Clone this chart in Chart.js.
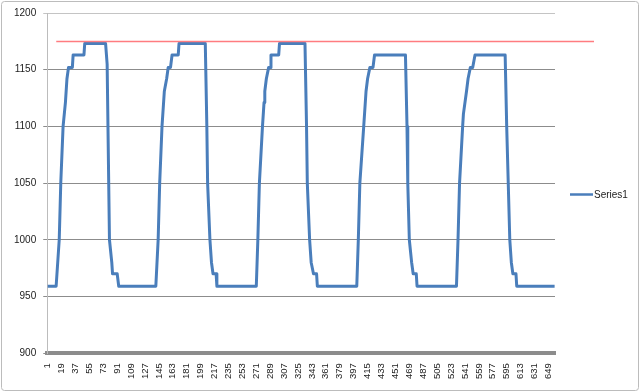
<!DOCTYPE html>
<html>
<head>
<meta charset="utf-8">
<script src="https://cdn.jsdelivr.net/npm/chart.js@4.4.1/dist/chart.umd.min.js"></script>
<style>
  html, body { margin: 0; padding: 0; background: #fff; }
</style>
</head>
<body>
<canvas id="seriesChart" width="640" height="392"></canvas>
<script>
// Series1: category index where the trace turns, and its value there
const seriesCats = [
  1, 12, 16, 18, 21, 24, 26, 28, 33, 34, 48, 49, 76, 78, 81, 84, 85, 91, 93,
  141, 144, 146, 149, 152, 155, 157, 160, 162, 170, 171, 205, 207, 208, 211, 213, 215, 219, 220,
  271, 273, 275, 279, 281, 282, 284, 287, 289, 290, 300, 301, 334, 336, 337, 340, 342, 345, 349, 350,
  401, 403, 405, 410, 413, 415, 418, 422, 424, 464, 466, 467, 469, 472, 474, 478, 479,
  530, 532, 534, 538, 539, 543, 545, 548, 551, 554, 593, 595, 599, 601, 603, 607, 608, 657
];
const seriesValues = [
  959, 959, 1000, 1050, 1100, 1121, 1142, 1152, 1152, 1163, 1163, 1173, 1173, 1155, 1000, 980, 970, 970, 959,
  959, 1000, 1050, 1100, 1131, 1142, 1152, 1152, 1163, 1163, 1173, 1173, 1100, 1050, 1000, 980, 970, 970, 959,
  959, 1000, 1050, 1100, 1121, 1131, 1142, 1152, 1152, 1163, 1163, 1173, 1173, 1100, 1050, 1000, 980, 970, 970, 959,
  959, 1000, 1050, 1100, 1131, 1142, 1152, 1152, 1163, 1163, 1100, 1050, 1000, 980, 970, 970, 959,
  959, 1000, 1050, 1100, 1111, 1131, 1142, 1152, 1152, 1163, 1163, 1100, 1000, 980, 970, 970, 959, 959
];
const xTickLabels = [
  1, 19, 37, 55, 73, 91, 109, 127, 145, 163, 181, 199, 217, 235, 253, 271, 289, 307, 325,
  343, 361, 379, 397, 415, 433, 451, 469, 487, 505, 523, 541, 559, 577, 595, 613, 631, 649
];
const categoryCount = 657;
const yMin = 900;
const yMax = 1200;
const yStep = 50;
const limitValue = 1175; // red reference line
const seriesName = "Series1";

const blue = "#4a7ebb";

// white background, frame, red limit line and the little legend on the right
const decorPlugin = {
  id: "decor",
  beforeDraw(chart) {
    const ctx = chart.ctx;
    ctx.save();
    ctx.fillStyle = "#fff";
    ctx.fillRect(0, 0, chart.width, chart.height);
    ctx.strokeStyle = "#bcbcbc";
    ctx.lineWidth = 1;
    ctx.beginPath();
    ctx.roundRect(1.5, 1.5, chart.width - 3, chart.height - 3, 3);
    ctx.stroke();
    ctx.restore();
  },
  afterDraw(chart) {
    const ctx = chart.ctx;
    const area = chart.chartArea;
    const y = Math.round(chart.scales.y.getPixelForValue(limitValue)) + 0.5;
    ctx.save();
    ctx.strokeStyle = "#ff7c80";
    ctx.lineWidth = 1.5;
    ctx.beginPath();
    ctx.moveTo(area.left + 9, y);
    ctx.lineTo(area.right + 39, y);
    ctx.stroke();

    // legend
    const ly = chart.height / 2 - 1.5;
    ctx.strokeStyle = blue;
    ctx.lineWidth = 2.5;
    ctx.beginPath();
    ctx.moveTo(area.right + 15, ly);
    ctx.lineTo(area.right + 38, ly);
    ctx.stroke();
    ctx.fillStyle = "#222";
    ctx.font = "10px 'Liberation Sans'";
    ctx.textBaseline = "middle";
    ctx.fillText(seriesName, area.right + 39, ly + 1);
    ctx.restore();
  },
};

new Chart(document.getElementById("seriesChart"), {
  type: "line",
  data: {
    datasets: [
      {
        label: seriesName,
        data: seriesCats.map((c, i) => ({ x: c, y: seriesValues[i] })),
        borderColor: blue,
        borderWidth: 3,
        borderJoinStyle: "round",
        pointRadius: 0,
        tension: 0,
        fill: false,
      },
    ],
  },
  options: {
    responsive: false,
    animation: false,
    devicePixelRatio: 1,
    layout: {
      padding: { left: 7, top: 13, right: 85, bottom: 3 },
    },
    scales: {
      x: {
        type: "linear",
        min: 0.5,
        max: categoryCount + 0.5,
        afterBuildTicks(axis) {
          axis.ticks = xTickLabels.map((v) => ({ value: v }));
        },
        ticks: {
          autoSkip: false,
          minRotation: 90,
          maxRotation: 90,
          padding: 10,
          color: "#222",
          font: { family: "'Liberation Sans'", size: 9.5 },
          callback: (v) => String(v),
        },
        grid: {
          drawOnChartArea: false,
          drawTicks: false,
        },
        border: { color: "#8c8c8c", width: 4 },
      },
      y: {
        min: yMin,
        max: yMax,
        ticks: {
          stepSize: yStep,
          padding: 7,
          color: "#222",
          font: { family: "'Liberation Sans'", size: 10 },
          callback: (v) => String(v),
        },
        grid: {
          color: (c) => (c.tick && c.tick.value === yMax ? "#c4c4c4" : "#8c8c8c"),
          tickLength: 4,
        },
        border: { color: "#bcbcbc" },
      },
    },
    plugins: {
      legend: { display: false },
      tooltip: { enabled: false },
    },
  },
  plugins: [decorPlugin],
});
</script>
</body>
</html>
